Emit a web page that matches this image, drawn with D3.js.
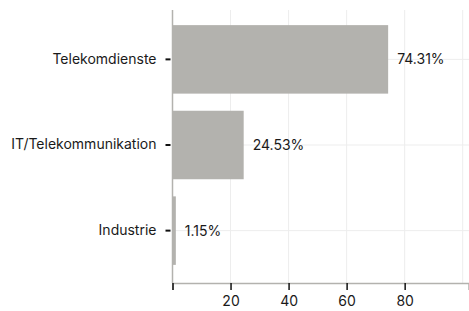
<!DOCTYPE html>
<html>
<head>
<meta charset="utf-8">
<script src="https://cdn.jsdelivr.net/npm/d3@7"></script>
<style>
  body { margin: 0; background: #fff; }
  text { font-family: Inter, "Noto Sans", sans-serif; fill: #1a1a1a; }
</style>
</head>
<body>
<svg width="469" height="311"></svg>
<script>
// chart data
var categories = ['Telekomdienste', 'IT/Telekommunikation', 'Industrie'];
var shares = [74.31, 24.53, 1.15];
var labels = ['74.31%', '24.53%', '1.15%'];
var xTicks = [0, 20, 40, 60, 80];
var xGrid = [20, 40, 60, 80, 100];

var svg = d3.select('svg');

var x = d3.scaleLinear()
    .domain([0, 102])
    .range([172.5, 468.5]);

var y = d3.scaleBand()
    .domain(categories)
    .range([8, 282])
    .paddingInner(0.2)
    .paddingOuter(0.2);

// grid
svg.append('g').selectAll('line.v')
    .data(xGrid)
    .enter().append('line')
    .attr('x1', d => x(d)).attr('x2', d => x(d))
    .attr('y1', 10).attr('y2', 283)
    .attr('stroke', '#ededed').attr('stroke-width', 1);

svg.append('g').selectAll('line.h')
    .data(categories)
    .enter().append('line')
    .attr('x1', 172).attr('x2', 469)
    .attr('y1', d => y(d) + y.bandwidth() / 2)
    .attr('y2', d => y(d) + y.bandwidth() / 2)
    .attr('stroke', '#ededed').attr('stroke-width', 1);

// bars
svg.selectAll('rect.bar')
    .data(shares)
    .enter().append('rect')
    .attr('class', 'bar')
    .attr('x', x(0))
    .attr('y', (d, i) => y(categories[i]))
    .attr('width', d => x(d) - x(0))
    .attr('height', y.bandwidth())
    .attr('fill', '#b3b2ae');

// value labels
svg.selectAll('text.val')
    .data(shares)
    .enter().append('text')
    .attr('class', 'val')
    .attr('x', d => x(d) + 9)
    .attr('y', (d, i) => y(categories[i]) + y.bandwidth() / 2)
    .attr('dy', '0.35em')
    .style('font-size', '14px')
    .text((d, i) => labels[i]);

// x axis
var xAxis = svg.append('g')
    .attr('transform', 'translate(0,283)')
    .call(d3.axisBottom(x).tickValues(xTicks).tickSize(7).tickPadding(6)
        .tickFormat(d => d === 0 ? '' : d));
xAxis.select('.domain').attr('stroke', '#b3b2ae').attr('stroke-width', 1.5);
xAxis.selectAll('.tick line').attr('stroke', '#111').attr('stroke-width', 1.5);
xAxis.selectAll('.tick text').style('font-size', '14px').attr('fill', '#1a1a1a');

// y axis
var yAxis = svg.append('g')
    .attr('transform', 'translate(172.5,0)')
    .call(d3.axisLeft(y).tickSize(6).tickPadding(10));
yAxis.select('.domain').attr('d', 'M0,10V283').attr('stroke', '#b3b2ae').attr('stroke-width', 1.5);
yAxis.selectAll('.tick line').attr('x1', -2).attr('x2', -7).attr('stroke', '#111').attr('stroke-width', 2);
yAxis.selectAll('.tick text').style('font-size', '14px').attr('fill', '#1a1a1a');
</script>
</body>
</html>
